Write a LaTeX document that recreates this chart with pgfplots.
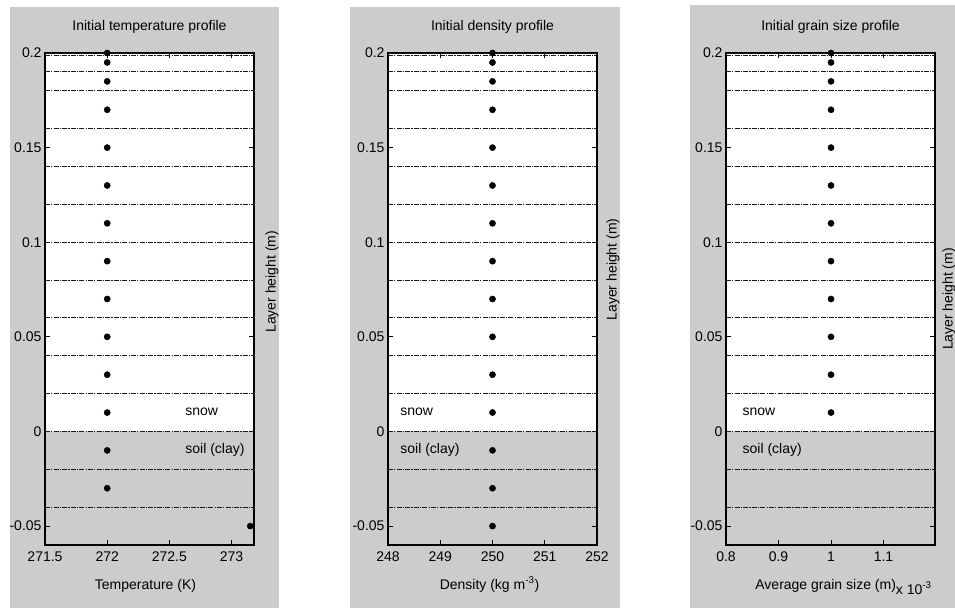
\documentclass[border=0pt]{standalone}
\usepackage{fontspec}
\setmainfont{Liberation Sans}
\usepackage{pgfplots}
\pgfplotsset{compat=1.18}
\definecolor{bg}{gray}{0.80}
\newcommand{\ff}{\fontsize{14}{16}\selectfont}
\pgfplotsset{
  prof/.style={
    scale only axis, width=209pt, height=492pt, anchor=south west,
    ymin=-0.06, ymax=0.2,
    ytick={-0.05,0,0.05,0.1,0.15,0.2},
    yticklabels={-0.05,0,0.05,0.1,0.15,0.2},
    tick align=inside, major tick length=5pt,
    tick style={black, line width=0.8pt},
    axis line style={black, line width=1.1pt},
    axis background/.style={fill=white},
    axis on top, clip=false,
    ticklabel style={font=\ff},
    xticklabel style={yshift=-3pt},
    extra y ticks={0.2,0.1988,0.19,0.18,0.16,0.14,0.12,0.10,0.08,0.06,0.04,0.02,0,-0.02,-0.04},
    extra y tick labels={},
    extra y tick style={grid=major, major tick length=0pt,
      major grid style={black!90, line width=0.9pt, dash pattern=on 5pt off 1.2pt on 1.2pt off 1.2pt}},
    scaled ticks=false,
  },
  pts/.style={only marks, mark=*, mark size=3.1pt, mark options={fill=black, draw=black}},
  soil/.style={fill=bg, draw=none},
}
\begin{document}
\begin{tikzpicture}[x=1pt,y=1pt]
\useasboundingbox (0,0) rectangle (955,608);
\fill[white] (0,0) rectangle (955,608);
\fill[bg] (10,0) rectangle (279,601);
\fill[bg] (350,0) rectangle (620,601);
\fill[bg] (690,0) rectangle (955,603);

% ---------- Temperature ----------
\begin{axis}[prof, at={(45pt,63pt)},
  xmin=271.5, xmax=273.18,
  xtick={271.5,272,272.5,273}, xticklabels={271.5,272,272.5,273}]
\addplot[soil] coordinates {(271.5,-0.06) (273.18,-0.06) (273.18,0) (271.5,0)} \closedcycle;
\addplot[pts] coordinates {
 (272,0.2) (272,0.195) (272,0.185) (272,0.17) (272,0.15) (272,0.13) (272,0.11)
 (272,0.09) (272,0.07) (272,0.05) (272,0.03) (272,0.01) (272,-0.01) (272,-0.03)
 (273.15,-0.05)};
\node[font=\ff, anchor=west] at (axis cs:272.6,0.0105) {snow};
\node[font=\ff, anchor=west] at (axis cs:272.6,-0.0095) {soil (clay)};
\node[font=\ff, anchor=base] at (rel axis cs:0.5,1) [yshift=22pt] {Initial temperature profile};
\node[font=\ff, anchor=base] at (rel axis cs:0.5,0) [yshift=-44pt, xshift=-4pt] {Temperature (K)};
\node[font=\ff, rotate=90] at (rel axis cs:1.086,0.535) {Layer height (m)};
\end{axis}

% ---------- Density ----------
\begin{axis}[prof, at={(388pt,63pt)},
  xmin=248, xmax=252,
  xtick={248,249,250,251,252}, xticklabels={248,249,250,251,252}]
\addplot[soil] coordinates {(248,-0.06) (252,-0.06) (252,0) (248,0)} \closedcycle;
\addplot[pts] coordinates {
 (250,0.2) (250,0.195) (250,0.185) (250,0.17) (250,0.15) (250,0.13) (250,0.11)
 (250,0.09) (250,0.07) (250,0.05) (250,0.03) (250,0.01) (250,-0.01) (250,-0.03)
 (250,-0.05)};
\node[font=\ff, anchor=west] at (axis cs:248.17,0.0105) {snow};
\node[font=\ff, anchor=west] at (axis cs:248.17,-0.0095) {soil (clay)};
\node[font=\ff, anchor=base] at (rel axis cs:0.5,1) [yshift=22pt] {Initial density profile};
\node[font=\ff, anchor=base] at (rel axis cs:0.5,0) [yshift=-44pt, xshift=-3pt] {Density (kg m\textsuperscript{-3})};
\node[font=\ff, rotate=90] at (rel axis cs:1.077,0.56) {Layer height (m)};
\end{axis}

% ---------- Grain size ----------
\begin{axis}[prof, at={(726pt,63pt)},
  xmin=0.0008, xmax=0.001198,
  xtick={0.0008,0.0009,0.001,0.0011}, xticklabels={0.8,0.9,1,1.1}]
\addplot[soil] coordinates {(0.0008,-0.06) (0.001198,-0.06) (0.001198,0) (0.0008,0)} \closedcycle;
\addplot[pts] coordinates {
 (0.001,0.2) (0.001,0.195) (0.001,0.185) (0.001,0.17) (0.001,0.15) (0.001,0.13)
 (0.001,0.11) (0.001,0.09) (0.001,0.07) (0.001,0.05) (0.001,0.03) (0.001,0.01)};
\node[font=\ff, anchor=west] at (axis cs:0.000825,0.0105) {snow};
\node[font=\ff, anchor=west] at (axis cs:0.000825,-0.0095) {soil (clay)};
\node[font=\ff, anchor=base] at (rel axis cs:0.5,1) [yshift=22pt] {Initial grain size profile};
\node[font=\ff, anchor=base] at (rel axis cs:0.5,0) [yshift=-44pt, xshift=13pt] {Average grain size (m)\raisebox{-5pt}{x 10\textsuperscript{-3}}};
\node[font=\ff, rotate=90] at (rel axis cs:1.067,0.50) {Layer height (m)};
\end{axis}
\end{tikzpicture}
\end{document}
